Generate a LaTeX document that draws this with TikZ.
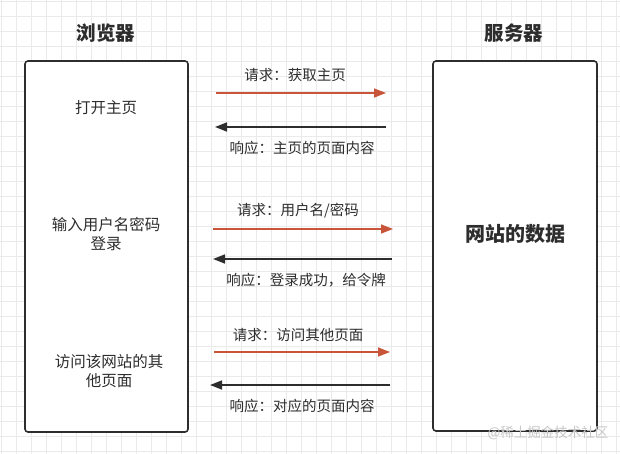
\documentclass[tikz,border=0pt]{standalone}
\usepackage{fontspec}
\setmainfont{Noto Sans CJK SC}
\usepackage{xcolor}
\usetikzlibrary{arrows.meta}
\definecolor{reqred}{RGB}{200,84,58}
\definecolor{ink}{RGB}{45,45,45}
\definecolor{gridgray}{RGB}{234,234,234}

\begin{document}
\begin{tikzpicture}[x=1pt,y=-1pt,
    gridline/.style={gridgray, line width=0.8pt},
    box/.style={draw=ink, line width=1.6pt, rounded corners=3pt, fill=white},
    heading/.style={text=ink, font=\fontsize{19.5}{22}\selectfont\bfseries},
    boxtext/.style={text=ink, align=center, font=\fontsize{15.5}{19}\selectfont},
    msg/.style={text=ink, font=\fontsize{14.5}{17}\selectfont, inner sep=1pt},
    request/.style={reqred, line width=1.6pt, -{Triangle[length=12pt,width=9pt]}},
    response/.style={ink, line width=1.6pt, -{Triangle[length=12pt,width=9pt]}}]
            \useasboundingbox[fill=white] (0,0) rectangle (620,454);
            \foreach \gx in {1,16,...,616} \draw[gridline] (\gx,0) -- (\gx,454);
            \foreach \gy in {1.5,16.5,...,451.5} \draw[gridline] (0,\gy) -- (620,\gy);
            \node[heading] (browsertitle) at (106,33) {浏览器};
            \node[heading] (servertitle) at (514,33) {服务器};
            \node[box, minimum width=163pt, minimum height=371pt] (browser) at (106.5,246.5) {};
            \node[box, minimum width=164pt, minimum height=370pt] (server) at (515,246) {};
            \node[boxtext] (openhome) at (106,108) {打开主页};
            \node[boxtext] (login) at (106,234) {输入用户名密码\\登录};
            \node[boxtext] (visit) at (109,371.5) {访问该网站的其\\他页面};
            \node[heading, font=\fontsize{20}{24}\selectfont\bfseries] (data) at (515,234) {网站的数据};
            \coordinate (req1a) at (216,93);  \coordinate (req1b) at (386,93);
            \coordinate (res1a) at (386,127); \coordinate (res1b) at (215,127);
            \coordinate (req2a) at (213,229); \coordinate (req2b) at (393,229);
            \coordinate (res2a) at (392,259); \coordinate (res2b) at (213,259);
            \coordinate (req3a) at (214,352); \coordinate (req3b) at (390,352);
            \coordinate (res3a) at (390,385); \coordinate (res3b) at (210,385);
            \draw[request] (req1a) -- (req1b);
            \draw[response] (res1a) -- (res1b);
            \draw[request] (req2a) -- (req2b);
            \draw[response] (res2a) -- (res2b);
            \draw[request] (req3a) -- (req3b);
            \draw[response] (res3a) -- (res3b);
            \node[msg] (req1text) at (295,75) {请求：获取主页};
            \node[msg] (res1text) at (302,148) {响应：主页的页面内容};
            \node[msg] (req2text) at (298,211) {请求：用户名/密码};
            \node[msg] (res2text) at (306,280) {响应：登录成功，给令牌};
            \node[msg] (req3text) at (298,335) {请求：访问其他页面};
            \node[msg] (res3text) at (302,406) {响应：对应的页面内容};
            \node[text=gray!45, font=\fontsize{13.5}{16}\selectfont, inner sep=0pt] (watermark) at (548,433) {@稀土掘金技术社区};
        \end{tikzpicture}
\end{document}
